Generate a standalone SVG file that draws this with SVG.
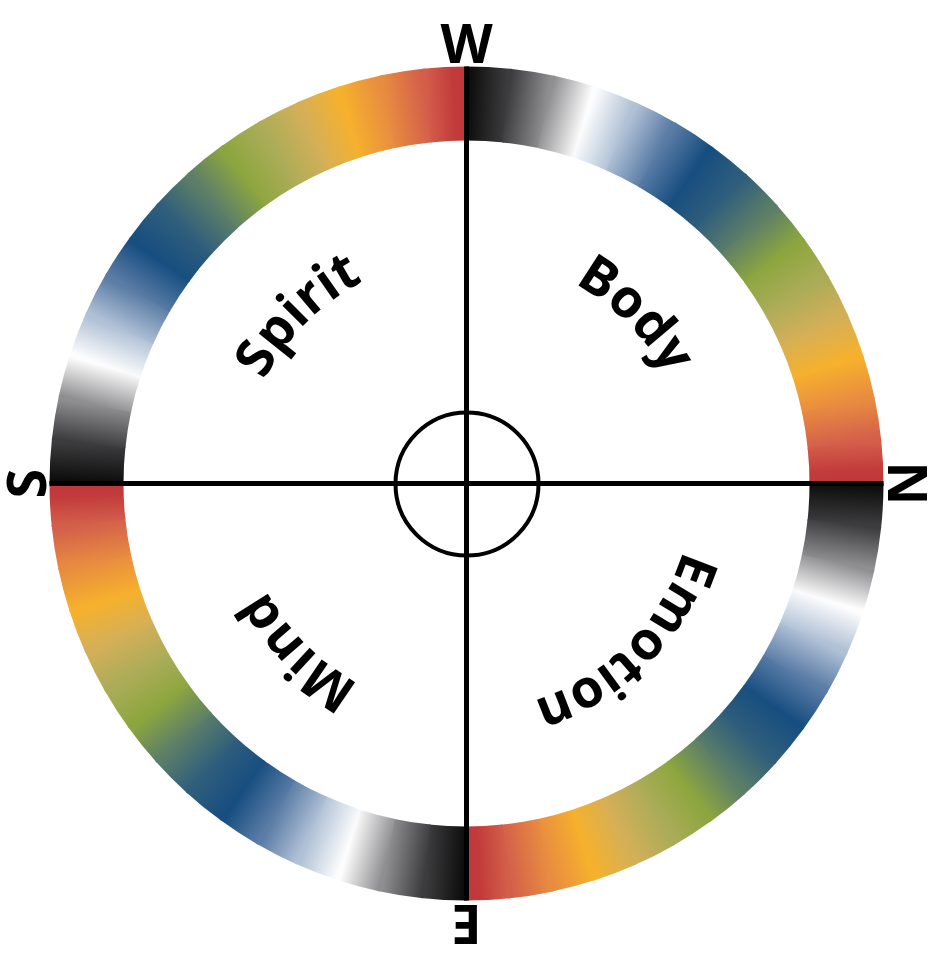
<svg xmlns="http://www.w3.org/2000/svg" width="941" height="969" viewBox="0 0 941 969">
<style>
.lbl{font-family:"Open Sans","DejaVu Sans",sans-serif;fill:#000}
.cmp{font-size:54px;font-weight:700}
.qd{font-size:53px;font-weight:700}
.ax{stroke:#000;stroke-width:5;fill:none}
</style>
<defs>
<path id="seg" d="M0,-417 A417,417 0 0 1 45.76,-414.48 L37.64,-340.93 A343,343 0 0 0 0,-343 Z"/>
<path id="lblpath" d="M0,-227 A227,227 0 1 1 0,227 A227,227 0 1 1 0,-227"/>
<linearGradient id="g0" gradientUnits="userSpaceOnUse" x1="0" y1="-380" x2="39.72" y2="-377.92"><stop offset="0" stop-color="#0a0a0a"/><stop offset="1" stop-color="#3c3c3e"/></linearGradient>
<linearGradient id="g1" href="#g0"><stop offset="0" stop-color="#3c3c3e"/><stop offset="1" stop-color="#8f8f92"/></linearGradient>
<linearGradient id="g2" href="#g0"><stop offset="0" stop-color="#8f8f92"/><stop offset="1" stop-color="#fdfdfd"/></linearGradient>
<linearGradient id="g3" href="#g0"><stop offset="0" stop-color="#fdfdfd"/><stop offset="1" stop-color="#b0c1d6"/></linearGradient>
<linearGradient id="g4" href="#g0"><stop offset="0" stop-color="#b0c1d6"/><stop offset="1" stop-color="#5a7ca6"/></linearGradient>
<linearGradient id="g5" href="#g0"><stop offset="0" stop-color="#5a7ca6"/><stop offset="1" stop-color="#174e80"/></linearGradient>
<linearGradient id="g6" href="#g0"><stop offset="0" stop-color="#174e80"/><stop offset="1" stop-color="#2f5e7c"/></linearGradient>
<linearGradient id="g7" href="#g0"><stop offset="0" stop-color="#2f5e7c"/><stop offset="1" stop-color="#5c7e68"/></linearGradient>
<linearGradient id="g8" href="#g0"><stop offset="0" stop-color="#5c7e68"/><stop offset="1" stop-color="#8ca63e"/></linearGradient>
<linearGradient id="g9" href="#g0"><stop offset="0" stop-color="#8ca63e"/><stop offset="1" stop-color="#abac58"/></linearGradient>
<linearGradient id="g10" href="#g0"><stop offset="0" stop-color="#abac58"/><stop offset="1" stop-color="#d4af58"/></linearGradient>
<linearGradient id="g11" href="#g0"><stop offset="0" stop-color="#d4af58"/><stop offset="1" stop-color="#f6b12c"/></linearGradient>
<linearGradient id="g12" href="#g0"><stop offset="0" stop-color="#f6b12c"/><stop offset="1" stop-color="#e88c40"/></linearGradient>
<linearGradient id="g13" href="#g0"><stop offset="0" stop-color="#e88c40"/><stop offset="1" stop-color="#d35e4a"/></linearGradient>
<linearGradient id="g14" href="#g0"><stop offset="0" stop-color="#d35e4a"/><stop offset="0.7" stop-color="#c23a3b"/><stop offset="1" stop-color="#c0383a"/></linearGradient>
</defs>
<rect width="941" height="969" fill="#fff"/>
<g transform="translate(466.5,483.5)">
<g id="ring">
<g id="quad">
<use href="#seg" fill="url(#g0)"/>
<use href="#seg" fill="url(#g1)" transform="rotate(6)"/>
<use href="#seg" fill="url(#g2)" transform="rotate(12)"/>
<use href="#seg" fill="url(#g3)" transform="rotate(18)"/>
<use href="#seg" fill="url(#g4)" transform="rotate(24)"/>
<use href="#seg" fill="url(#g5)" transform="rotate(30)"/>
<use href="#seg" fill="url(#g6)" transform="rotate(36)"/>
<use href="#seg" fill="url(#g7)" transform="rotate(42)"/>
<use href="#seg" fill="url(#g8)" transform="rotate(48)"/>
<use href="#seg" fill="url(#g9)" transform="rotate(54)"/>
<use href="#seg" fill="url(#g10)" transform="rotate(60)"/>
<use href="#seg" fill="url(#g11)" transform="rotate(66)"/>
<use href="#seg" fill="url(#g12)" transform="rotate(72)"/>
<use href="#seg" fill="url(#g13)" transform="rotate(78)"/>
<use href="#seg" fill="url(#g14)" transform="rotate(84)"/>
</g>
<use href="#quad" transform="rotate(90)"/>
<use href="#quad" transform="rotate(180)"/>
<use href="#quad" transform="rotate(270)"/>
</g>
<g id="connectors">
<line class="ax" x1="0" y1="-417" x2="0" y2="417"/>
<line class="ax" x1="-417" y1="0" x2="417" y2="0"/>
</g>
<g id="center">
<circle cx="0.5" cy="0.5" r="71.5" fill="none" stroke="#000" stroke-width="4"/>
</g>
<g id="compass" class="lbl cmp" text-anchor="middle">
<text x="0" y="-421">W</text>
<text x="0" y="-421" transform="rotate(90)">N</text>
<text x="0" y="-421" transform="rotate(180)">E</text>
<text x="0" y="-421" transform="rotate(270)">S</text>
</g>
<g id="body" class="lbl qd" text-anchor="middle"><text><textPath href="#lblpath" startOffset="12.5%">Body</textPath></text></g>
<g id="emotion" class="lbl qd" text-anchor="middle"><text><textPath href="#lblpath" startOffset="37.5%">Emotion</textPath></text></g>
<g id="mind" class="lbl qd" text-anchor="middle"><text><textPath href="#lblpath" startOffset="62.5%">Mind</textPath></text></g>
<g id="spirit" class="lbl qd" text-anchor="middle"><text><textPath href="#lblpath" startOffset="87.5%">Spirit</textPath></text></g>
</g>
</svg>
